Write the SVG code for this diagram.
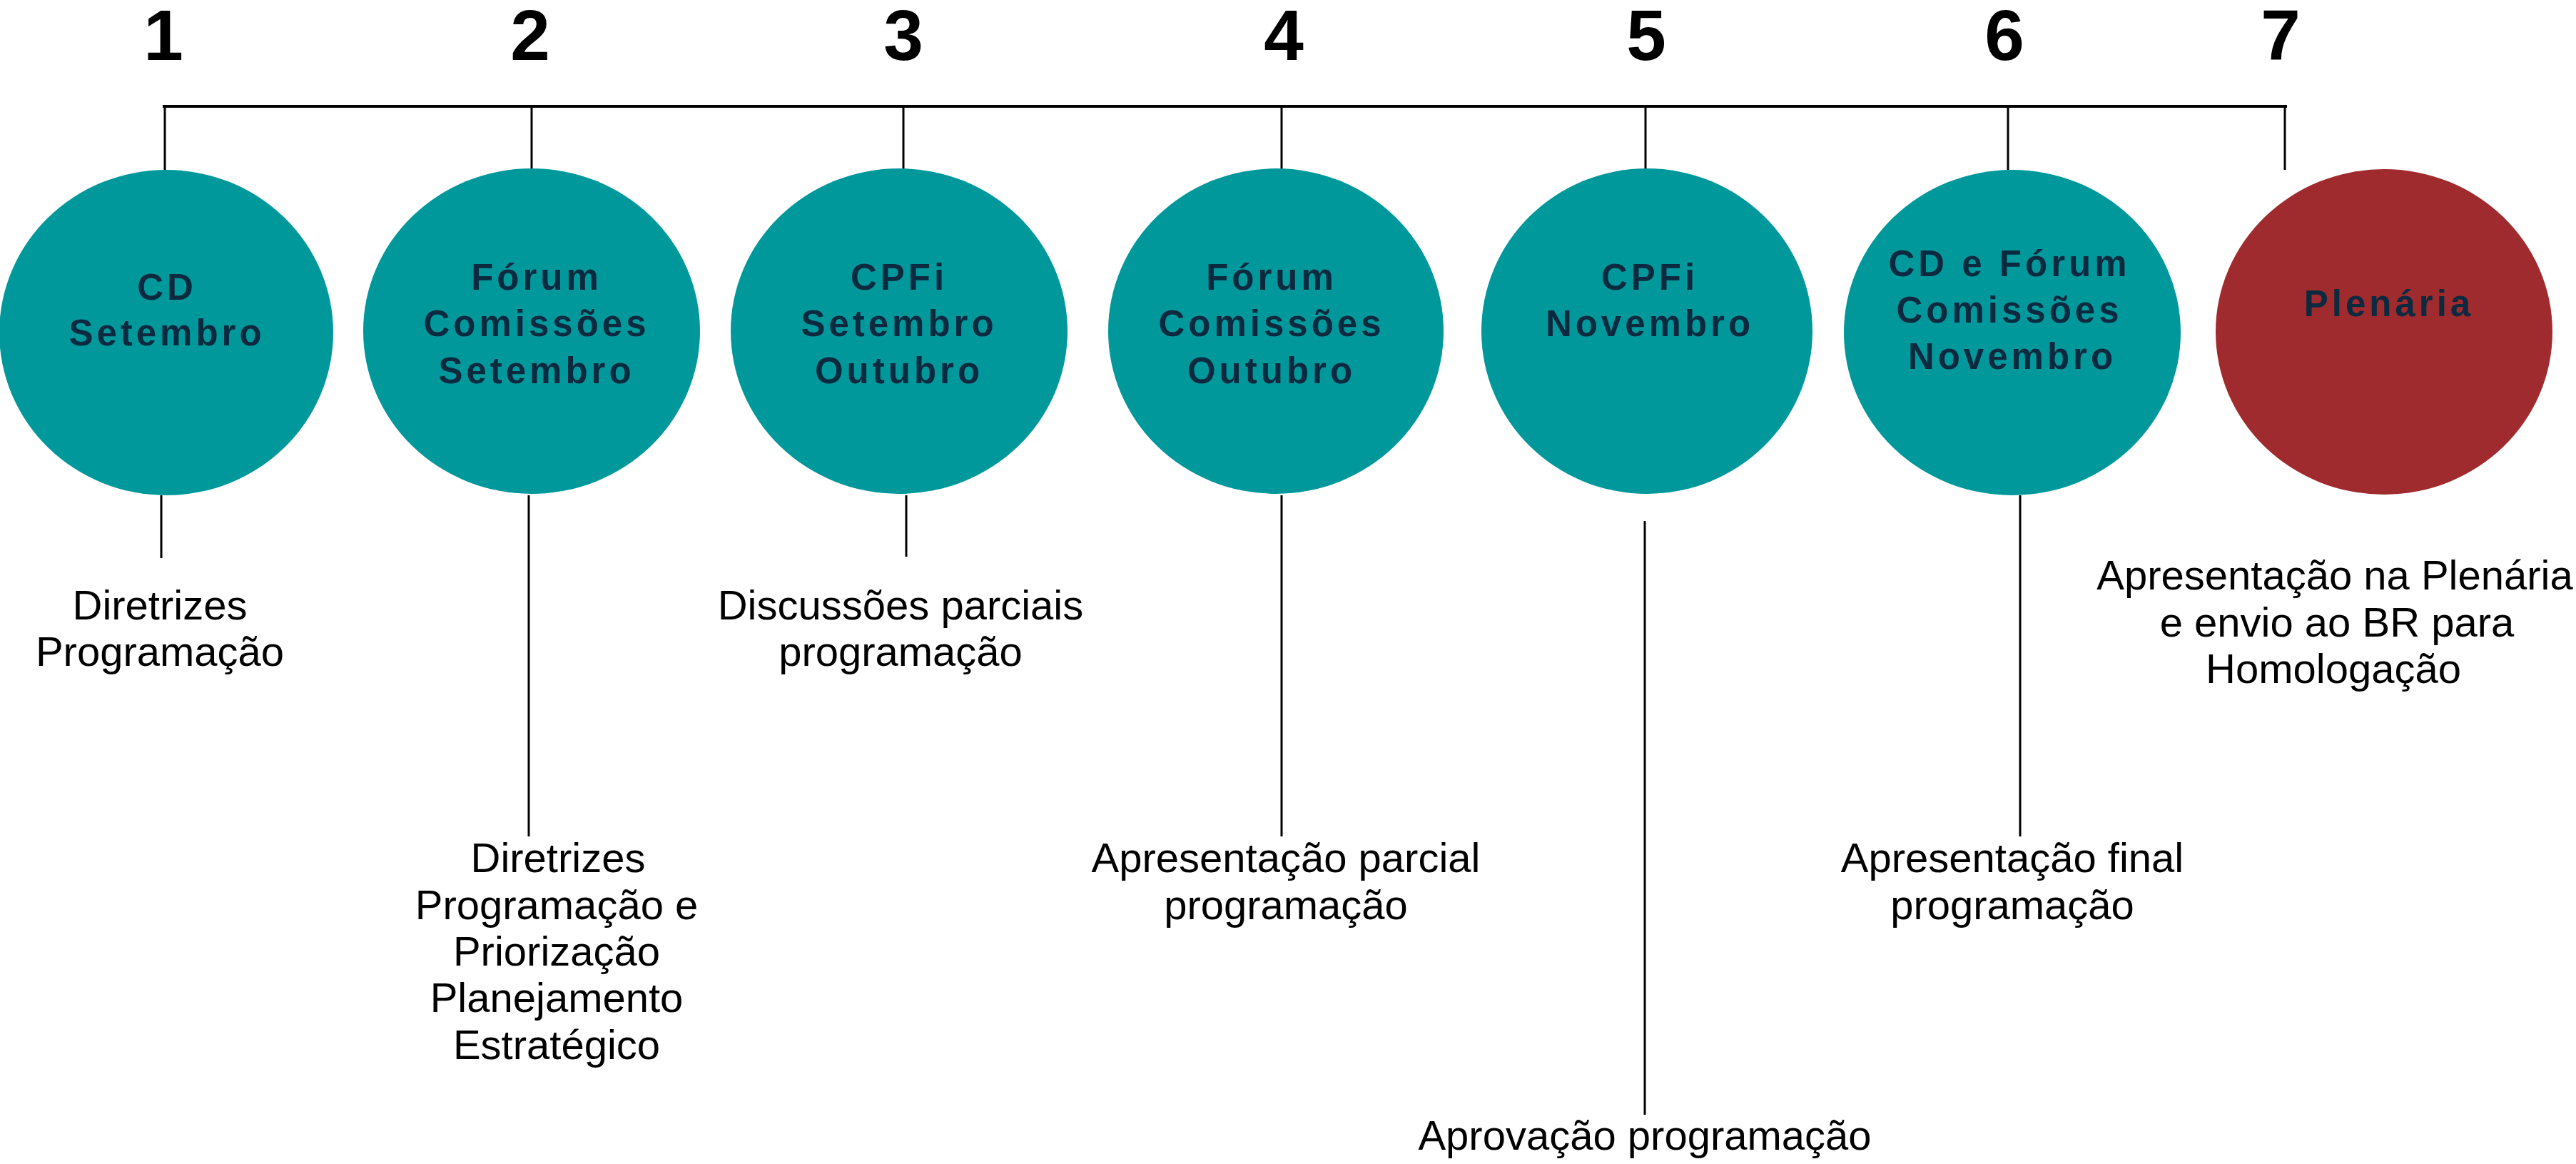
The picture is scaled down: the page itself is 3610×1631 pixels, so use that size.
<svg xmlns="http://www.w3.org/2000/svg" width="3610" height="1631" viewBox="0 0 3610 1631">
<style>
.num{font-family:"Liberation Sans",Arial,sans-serif;font-weight:bold;font-size:100px;fill:#000;text-anchor:middle}
.node{font-family:"Liberation Sans",Arial,sans-serif;font-weight:bold;font-size:51px;letter-spacing:5px;fill:#0c2a3f;text-anchor:middle}
.lbl{font-family:"Liberation Sans",Arial,sans-serif;font-size:58px;fill:#000;text-anchor:middle}
.teal{fill:#01989c}
.red{fill:#a02b2e}
.ln{stroke:#000;stroke-width:3;fill:none}
</style>
<rect width="3610" height="1631" fill="#fff"/>
<g id="numbers">
<text class="num" x="229" y="84">1</text>
<text class="num" x="743" y="84">2</text>
<text class="num" x="1266" y="84">3</text>
<text class="num" x="1799" y="84">4</text>
<text class="num" x="2307" y="84">5</text>
<text class="num" x="2809" y="84">6</text>
<text class="num" x="3196" y="84">7</text>
</g>
<g id="connectors">
<line x1="228" y1="149" x2="3205" y2="149" stroke="#000" stroke-width="4"/>
<line class="ln" x1="231" y1="149" x2="231" y2="238"/>
<line class="ln" x1="745" y1="149" x2="745" y2="238"/>
<line class="ln" x1="1266" y1="149" x2="1266" y2="238"/>
<line class="ln" x1="1796" y1="149" x2="1796" y2="238"/>
<line class="ln" x1="2306" y1="149" x2="2306" y2="238"/>
<line class="ln" x1="2814" y1="149" x2="2814" y2="238"/>
<line class="ln" x1="3202" y1="149" x2="3202" y2="238"/>
<line class="ln" x1="226" y1="694" x2="226" y2="782"/>
<line class="ln" x1="741" y1="694" x2="741" y2="1172"/>
<line class="ln" x1="1270" y1="694" x2="1270" y2="780"/>
<line class="ln" x1="1796" y1="694" x2="1796" y2="1172"/>
<line class="ln" x1="2305" y1="730" x2="2305" y2="1562"/>
<line class="ln" x1="2831" y1="694" x2="2831" y2="1172"/>
</g>
<g id="node1">
<ellipse class="teal" cx="233" cy="466" rx="234" ry="228"/>
<text class="node" x="234" y="420">CD</text>
<text class="node" x="234" y="484">Setembro</text>
</g>
<g id="node2">
<ellipse class="teal" cx="745" cy="464" rx="236" ry="228"/>
<text class="node" x="752" y="406">Fórum</text>
<text class="node" x="752" y="471">Comissões</text>
<text class="node" x="752" y="537">Setembro</text>
</g>
<g id="node3">
<ellipse class="teal" cx="1260" cy="464" rx="236" ry="228"/>
<text class="node" x="1260" y="406">CPFi</text>
<text class="node" x="1260" y="471">Setembro</text>
<text class="node" x="1260" y="537">Outubro</text>
</g>
<g id="node4">
<ellipse class="teal" cx="1788" cy="464" rx="235" ry="228"/>
<text class="node" x="1782" y="406">Fórum</text>
<text class="node" x="1782" y="471">Comissões</text>
<text class="node" x="1782" y="537">Outubro</text>
</g>
<g id="node5">
<ellipse class="teal" cx="2308" cy="464" rx="232" ry="228"/>
<text class="node" x="2312" y="406">CPFi</text>
<text class="node" x="2312" y="471">Novembro</text>
</g>
<g id="node6">
<ellipse class="teal" cx="2820" cy="466" rx="236" ry="228"/>
<text class="node" x="2816" y="387">CD e Fórum</text>
<text class="node" x="2816" y="452">Comissões</text>
<text class="node" x="2820" y="517">Novembro</text>
</g>
<g id="node7">
<ellipse class="red" cx="3341" cy="465" rx="236" ry="228"/>
<text class="node" x="3348" y="443">Plenária</text>
</g>
<g id="labels">
<text class="lbl" x="224" y="868">Diretrizes</text>
<text class="lbl" x="224" y="933">Programação</text>
<text class="lbl" x="782" y="1222">Diretrizes</text>
<text class="lbl" x="780" y="1288">Programação e</text>
<text class="lbl" x="780" y="1353">Priorização</text>
<text class="lbl" x="780" y="1418">Planejamento</text>
<text class="lbl" x="780" y="1484">Estratégico</text>
<text class="lbl" x="1262" y="868">Discussões parciais</text>
<text class="lbl" x="1262" y="933">programação</text>
<text class="lbl" x="1802" y="1222">Apresentação parcial</text>
<text class="lbl" x="1802" y="1288">programação</text>
<text class="lbl" x="2305" y="1611">Aprovação programação</text>
<text class="lbl" x="2820" y="1222">Apresentação final</text>
<text class="lbl" x="2820" y="1288">programação</text>
<text class="lbl" x="3272" y="826">Apresentação na Plenária</text>
<text class="lbl" x="3275" y="892">e envio ao BR para</text>
<text class="lbl" x="3270" y="957">Homologação</text>
</g>
</svg>
